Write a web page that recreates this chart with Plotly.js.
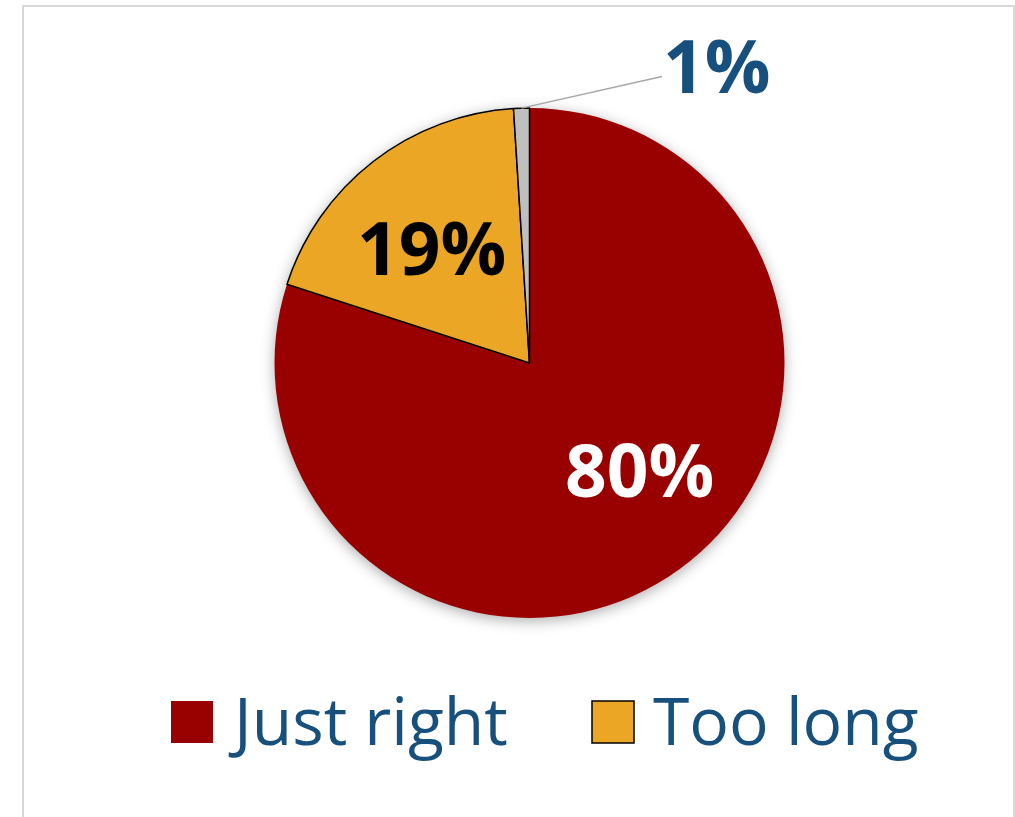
<!DOCTYPE html>
<html>
<head>
<meta charset="utf-8">
<script src="https://cdn.plot.ly/plotly-3.0.1.min.js"></script>
<style>
  html, body { margin: 0; padding: 0; background: #fff; }
  #chart { width: 1015px; height: 817px; }
  #chart .pielayer .trace { filter: drop-shadow(0px 3px 7px rgba(0,0,0,0.32)); }
</style>
</head>
<body>
<div id="chart"></div>
<script>
// ---- data ----
const categories = ['Just right', 'Too long', 'Too short'];
const shares = [80, 19, 1];
const sliceColors = ['#990000', '#EBA626', '#BFBFBF'];
const labelTexts = ['80%', '19%', '1%'];
const labelColors = ['#FFFFFF', '#000000', '#17507D'];
const legendCategories = ['Just right', 'Too long'];

// ---- layout helpers ----
const W = 1015, H = 817;
const px = x => x / W;
const py = y => 1 - y / H;
const cx = 529.5, cy = 363, R = 255;
// label placement nudges (pixels), like Excel's "best fit"
const labelNudge = [[20, -18], [-4, 4], [0, 0]];

const total = shares.reduce((a, b) => a + b, 0);
const annotations = [];
let cum = 0;
shares.forEach((v, i) => {
  const mid = (cum + v / 2) / total * 2 * Math.PI; // clockwise from 12 o'clock
  cum += v;
  const sx = Math.sin(mid), sy = -Math.cos(mid);
  if (v / total >= 0.05) {
    const k = 0.6 * R;
    annotations.push({
      xref: 'paper', yref: 'paper',
      x: px(cx + k * sx + labelNudge[i][0]), y: py(cy + k * sy + labelNudge[i][1]),
      text: labelTexts[i], showarrow: false,
      xanchor: 'center', yanchor: 'middle',
      font: { family: 'Open Sans, sans-serif', size: 73, color: labelColors[i], weight: 700 }
    });
  } else {
    annotations.push({
      xref: 'paper', yref: 'paper',
      x: px(cx + R * sx), y: py(cy + R * sy),
      text: labelTexts[i], showarrow: true,
      arrowhead: 0, arrowwidth: 1.5, arrowcolor: '#A6A6A6', standoff: 0,
      ax: 196, ay: -44,
      xanchor: 'center', yanchor: 'middle',
      font: { family: 'Open Sans, sans-serif', size: 73, color: labelColors[i], weight: 700 }
    });
  }
});

// custom legend (large swatches like the original)
const legendSwatchX = [171, 592];
const legendTextX = [226, 651];
const shapes = [{
  type: 'rect', xref: 'paper', yref: 'paper',
  x0: px(23), x1: px(1014), y0: -0.05, y1: py(6),
  line: { color: '#D9D9D9', width: 2 }, fillcolor: 'rgba(0,0,0,0)'
}];
legendCategories.forEach((name, j) => {
  const i = categories.indexOf(name);
  shapes.push({
    type: 'rect', xref: 'paper', yref: 'paper',
    x0: px(legendSwatchX[j]), x1: px(legendSwatchX[j] + 42),
    y0: py(743), y1: py(701),
    fillcolor: sliceColors[i],
    line: { color: i === 0 ? sliceColors[i] : '#000000', width: i === 0 ? 0 : 1.5 }
  });
  annotations.push({
    xref: 'paper', yref: 'paper',
    x: px(legendTextX[j]), y: py(719),
    text: name, showarrow: false,
    xanchor: 'left', yanchor: 'middle',
    font: { family: 'Open Sans, sans-serif', size: 66, color: '#17507D' }
  });
});

const trace = {
  type: 'pie',
  labels: categories,
  values: shares,
  sort: false,
  direction: 'clockwise',
  rotation: 0,
  marker: { colors: sliceColors, line: { color: '#000000', width: [0, 1.5, 1.5] } },
  textinfo: 'none',
  hoverinfo: 'label+percent',
  showlegend: false,
  domain: { x: [px(cx - R), px(cx + R)], y: [py(cy + R), py(cy - R)] }
};

const layout = {
  width: W, height: H,
  margin: { l: 0, r: 0, t: 0, b: 0 },
  paper_bgcolor: '#FFFFFF',
  showlegend: false,
  shapes: shapes,
  annotations: annotations
};

Plotly.newPlot('chart', [trace], layout, { displayModeBar: false, staticPlot: true });
</script>
</body>
</html>
